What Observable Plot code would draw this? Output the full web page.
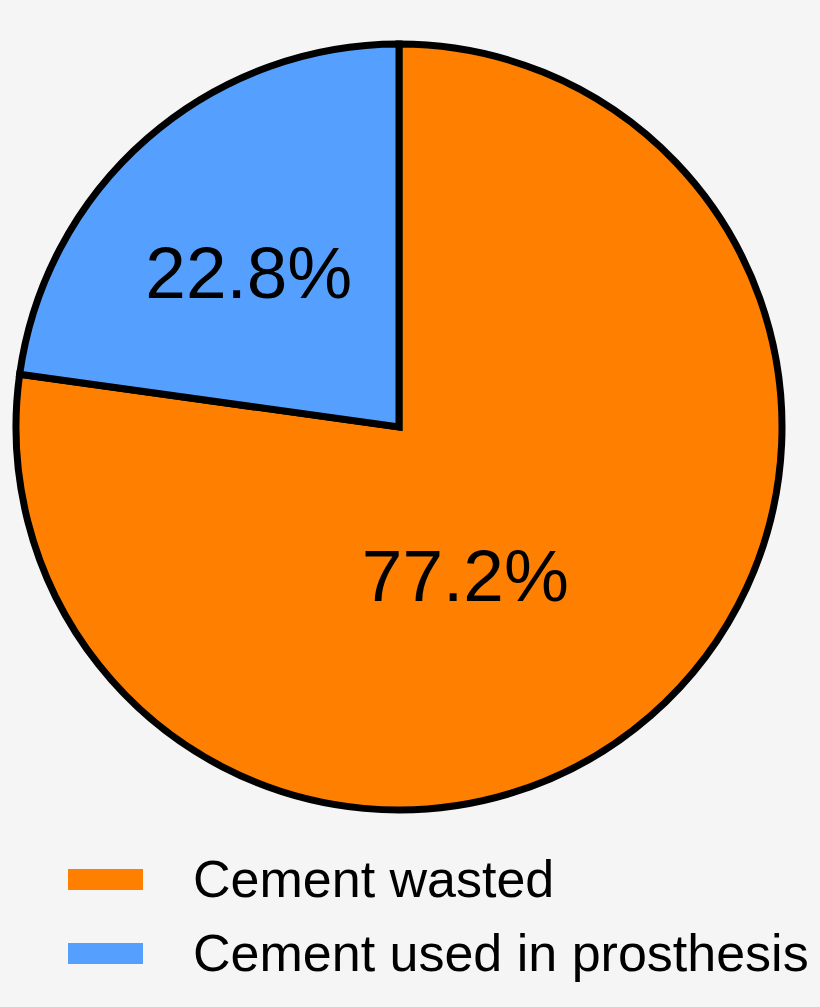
<!DOCTYPE html>
<html>
<head>
<meta charset="utf-8">
<script src="https://cdn.jsdelivr.net/npm/d3@7"></script>
<script src="https://cdn.jsdelivr.net/npm/@observablehq/plot@0.6"></script>
<style>
  html, body { margin: 0; padding: 0; background: #f5f5f5; }
  #chart { width: 820px; }
  svg { display: block; }
</style>
</head>
<body>
<div id="chart"></div>
<script>
// ---- data ----
const categories = ["Cement wasted", "Cement used in prosthesis"];
const values = [77.2, 22.8];
const labels = ["77.2%", "22.8%"];
const colors = ["#ff8000", "#55a0ff"];

// ---- layout constants (not data) ----
const W = 820, H = 840;
const CX = 399, CY = 427, R = 383;
const labelLayout = [ {r: 0.427, shiftDeg: 17.3}, {r: 0.561, shiftDeg: -3.5} ];

const color = d3.scaleOrdinal(categories, colors);
const table = categories.map((c, i) => ({category: c, value: values[i], label: labels[i]}));
const arcs = d3.pie().sort(null).value(d => d.value)(table);

const labelData = arcs.map((a, i) => {
  const mid = (a.startAngle + a.endAngle) / 2 + labelLayout[i].shiftDeg * Math.PI / 180;
  const rr = labelLayout[i].r;
  return {label: a.data.label, x: rr * Math.sin(mid), y: rr * Math.cos(mid)};
});

function slices(index, scales, vals, dimensions, context) {
  const cx = scales.x(0), cy = scales.y(0), r = scales.x(1) - cx;
  const arc = d3.arc().innerRadius(0).outerRadius(r);
  const g = d3.create("svg:g").attr("transform", `translate(${cx},${cy})`);
  g.selectAll("path").data(arcs).join("path")
    .attr("d", arc)
    .attr("fill", d => color(d.data.category))
    .attr("stroke", "#000")
    .attr("stroke-width", 7)
    .attr("stroke-linejoin", "miter");
  return g.node();
}

const plot = Plot.plot({
  width: W,
  height: H,
  margin: 0,
  style: {background: "#f5f5f5", overflow: "visible"},
  x: {type: "linear", domain: [-1, 1], range: [CX - R, CX + R], axis: null},
  y: {type: "linear", domain: [-1, 1], range: [CY + R, CY - R], axis: null},
  marks: [
    slices,
    Plot.text(labelData, {
      x: "x", y: "y", text: "label",
      fontSize: 73,
      fontFamily: "'Liberation Sans', Arial, sans-serif",
      fill: "#000",
      textAnchor: "middle",
      lineAnchor: "middle"
    })
  ]
});
document.getElementById("chart").appendChild(plot);

// ---- legend below the plot ----
const legend = d3.create("svg").attr("width", W).attr("height", 1007 - H)
  .style("background", "#f5f5f5");
const items = legend.selectAll("g").data(categories).join("g")
  .attr("transform", (d, i) => `translate(0,${i * 74})`);
items.append("rect").attr("x", 68).attr("y", 29).attr("width", 75).attr("height", 21)
  .attr("fill", d => color(d));
items.append("text").attr("x", 193).attr("y", 57)
  .attr("font-family", "'Liberation Sans', Arial, sans-serif")
  .attr("font-size", 52)
  .attr("fill", "#000")
  .text(d => d);
document.getElementById("chart").appendChild(legend.node());
</script>
</body>
</html>
